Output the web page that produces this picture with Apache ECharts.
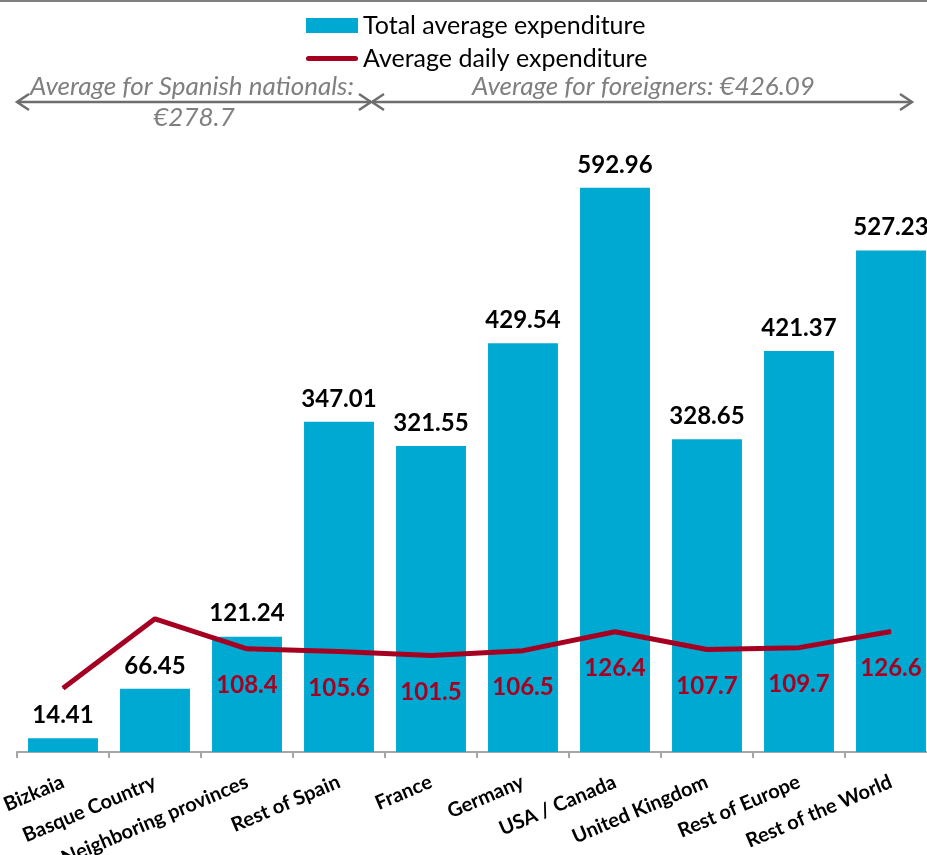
<!DOCTYPE html>
<html>
<head>
<meta charset="utf-8">
<style>
  html, body { margin: 0; padding: 0; background: #ffffff; }
  #chart { width: 927px; height: 855px; }
</style>
<script src="https://cdn.jsdelivr.net/npm/echarts@6/dist/echarts.min.js"></script>
</head>
<body>
<div id="chart"></div>
<script>
// Visitor spending by origin
const categories = [
  'Bizkaia', 'Basque Country', 'Neighboring provinces', 'Rest of Spain',
  'France', 'Germany', 'USA / Canada', 'United Kingdom', 'Rest of Europe', 'Rest of the World'
];
const totalExpenditure = [14.41, 66.45, 121.24, 347.01, 321.55, 429.54, 592.96, 328.65, 421.37, 527.23];
const dailyExpenditure = [67, 140, 108.4, 105.6, 101.5, 106.5, 126.4, 107.7, 109.7, 126.6];
const seriesNames = ['Total average expenditure', 'Average daily expenditure'];
const spanishAverage = '€278.7';
const foreignAverage = '€426.09';

const FONT = 'Lato, "Open Sans", sans-serif';
const BAR_COLOR = '#00A9D1';
const LINE_COLOR = '#A50021';
const NOTE_COLOR = '#7F7F7F';
const ARROW_COLOR = '#6E6E6E';

// rounded stroke used as the legend swatch of the line series
const LINE_ICON = 'path://M2.5,0 H49.5 A2.5,2.5 0 0 1 49.5,5 H2.5 A2.5,2.5 0 0 1 2.5,0 Z';

const chart = echarts.init(document.getElementById('chart'));

// open chevron arrow head
function head(x, y, dir) {
  return {
    type: 'polyline',
    shape: { points: [[x - dir * 12, y - 8], [x, y], [x - dir * 12, y + 8]] },
    style: { stroke: ARROW_COLOR, lineWidth: 2.5, fill: null },
    silent: true
  };
}

function note(text, x, y, align) {
  return {
    type: 'text',
    x: x,
    y: y,
    style: {
      text: text,
      font: 'italic 26px ' + FONT,
      fill: NOTE_COLOR,
      align: align,
      verticalAlign: 'middle'
    },
    silent: true
  };
}

chart.setOption({
  animation: false,
  textStyle: { fontFamily: FONT },
  // the last category runs past the right edge of the canvas
  grid: {
    left: 17,
    width: 920,
    top: 86,
    bottom: 103,
    containLabel: false,
    outerBoundsMode: 'none'
  },
  legend: {
    orient: 'vertical',
    left: 301,
    top: 8,
    itemWidth: 52,
    itemHeight: 15,
    itemGap: 8,
    textStyle: { fontSize: 25, color: '#000000', fontFamily: FONT },
    data: [
      { name: seriesNames[0], icon: 'rect' },
      { name: seriesNames[1], icon: LINE_ICON }
    ]
  },
  xAxis: {
    type: 'category',
    data: categories,
    axisLine: { lineStyle: { color: '#A6A6A6', width: 2 } },
    axisTick: { show: true, length: 6, lineStyle: { color: '#A6A6A6', width: 2 } },
    axisLabel: {
      interval: 0,
      rotate: 23,
      margin: 29,
      fontSize: 20,
      fontWeight: 'bold',
      color: '#000000',
      fontFamily: FONT
    }
  },
  yAxis: {
    type: 'value',
    min: 0,
    max: 700,
    show: false,
    splitLine: { show: false }
  },
  series: [
    {
      name: seriesNames[0],
      type: 'bar',
      data: totalExpenditure,
      barCategoryGap: '24%',
      itemStyle: { color: BAR_COLOR },
      label: {
        show: true,
        position: 'top',
        distance: 11,
        fontSize: 24,
        fontWeight: 'bold',
        color: '#000000',
        fontFamily: FONT,
        formatter: p => p.value.toFixed(2)
      },
      z: 2
    },
    {
      name: seriesNames[1],
      type: 'line',
      data: dailyExpenditure,
      symbol: 'circle',
      symbolSize: 1,
      showSymbol: true,
      itemStyle: { color: LINE_COLOR },
      lineStyle: { color: LINE_COLOR, width: 5 },
      label: {
        show: true,
        position: 'bottom',
        distance: 24,
        fontSize: 24,
        fontWeight: 'bold',
        color: LINE_COLOR,
        fontFamily: FONT,
        formatter: p => (p.dataIndex < 2 ? '' : String(p.value))
      },
      z: 5
    }
  ],
  graphic: [
    // frame line along the top edge
    {
      type: 'line',
      shape: { x1: 0, y1: 1, x2: 927, y2: 1 },
      style: { stroke: '#7F7F7F', lineWidth: 2 },
      silent: true
    },
    // Spanish nationals bracket
    {
      type: 'line',
      shape: { x1: 17, y1: 102, x2: 371, y2: 102 },
      style: { stroke: ARROW_COLOR, lineWidth: 2.5 },
      silent: true
    },
    head(17, 102, -1),
    head(371, 102, 1),
    // foreigners bracket
    {
      type: 'line',
      shape: { x1: 372, y1: 102, x2: 912, y2: 102 },
      style: { stroke: ARROW_COLOR, lineWidth: 2.5 },
      silent: true
    },
    head(372, 102, -1),
    head(912, 102, 1),
    note('Average for Spanish nationals:', 30, 87, 'left'),
    note(spanishAverage, 194, 118, 'center'),
    note('Average for foreigners: ' + foreignAverage, 472, 87, 'left')
  ]
});
</script>
</body>
</html>
